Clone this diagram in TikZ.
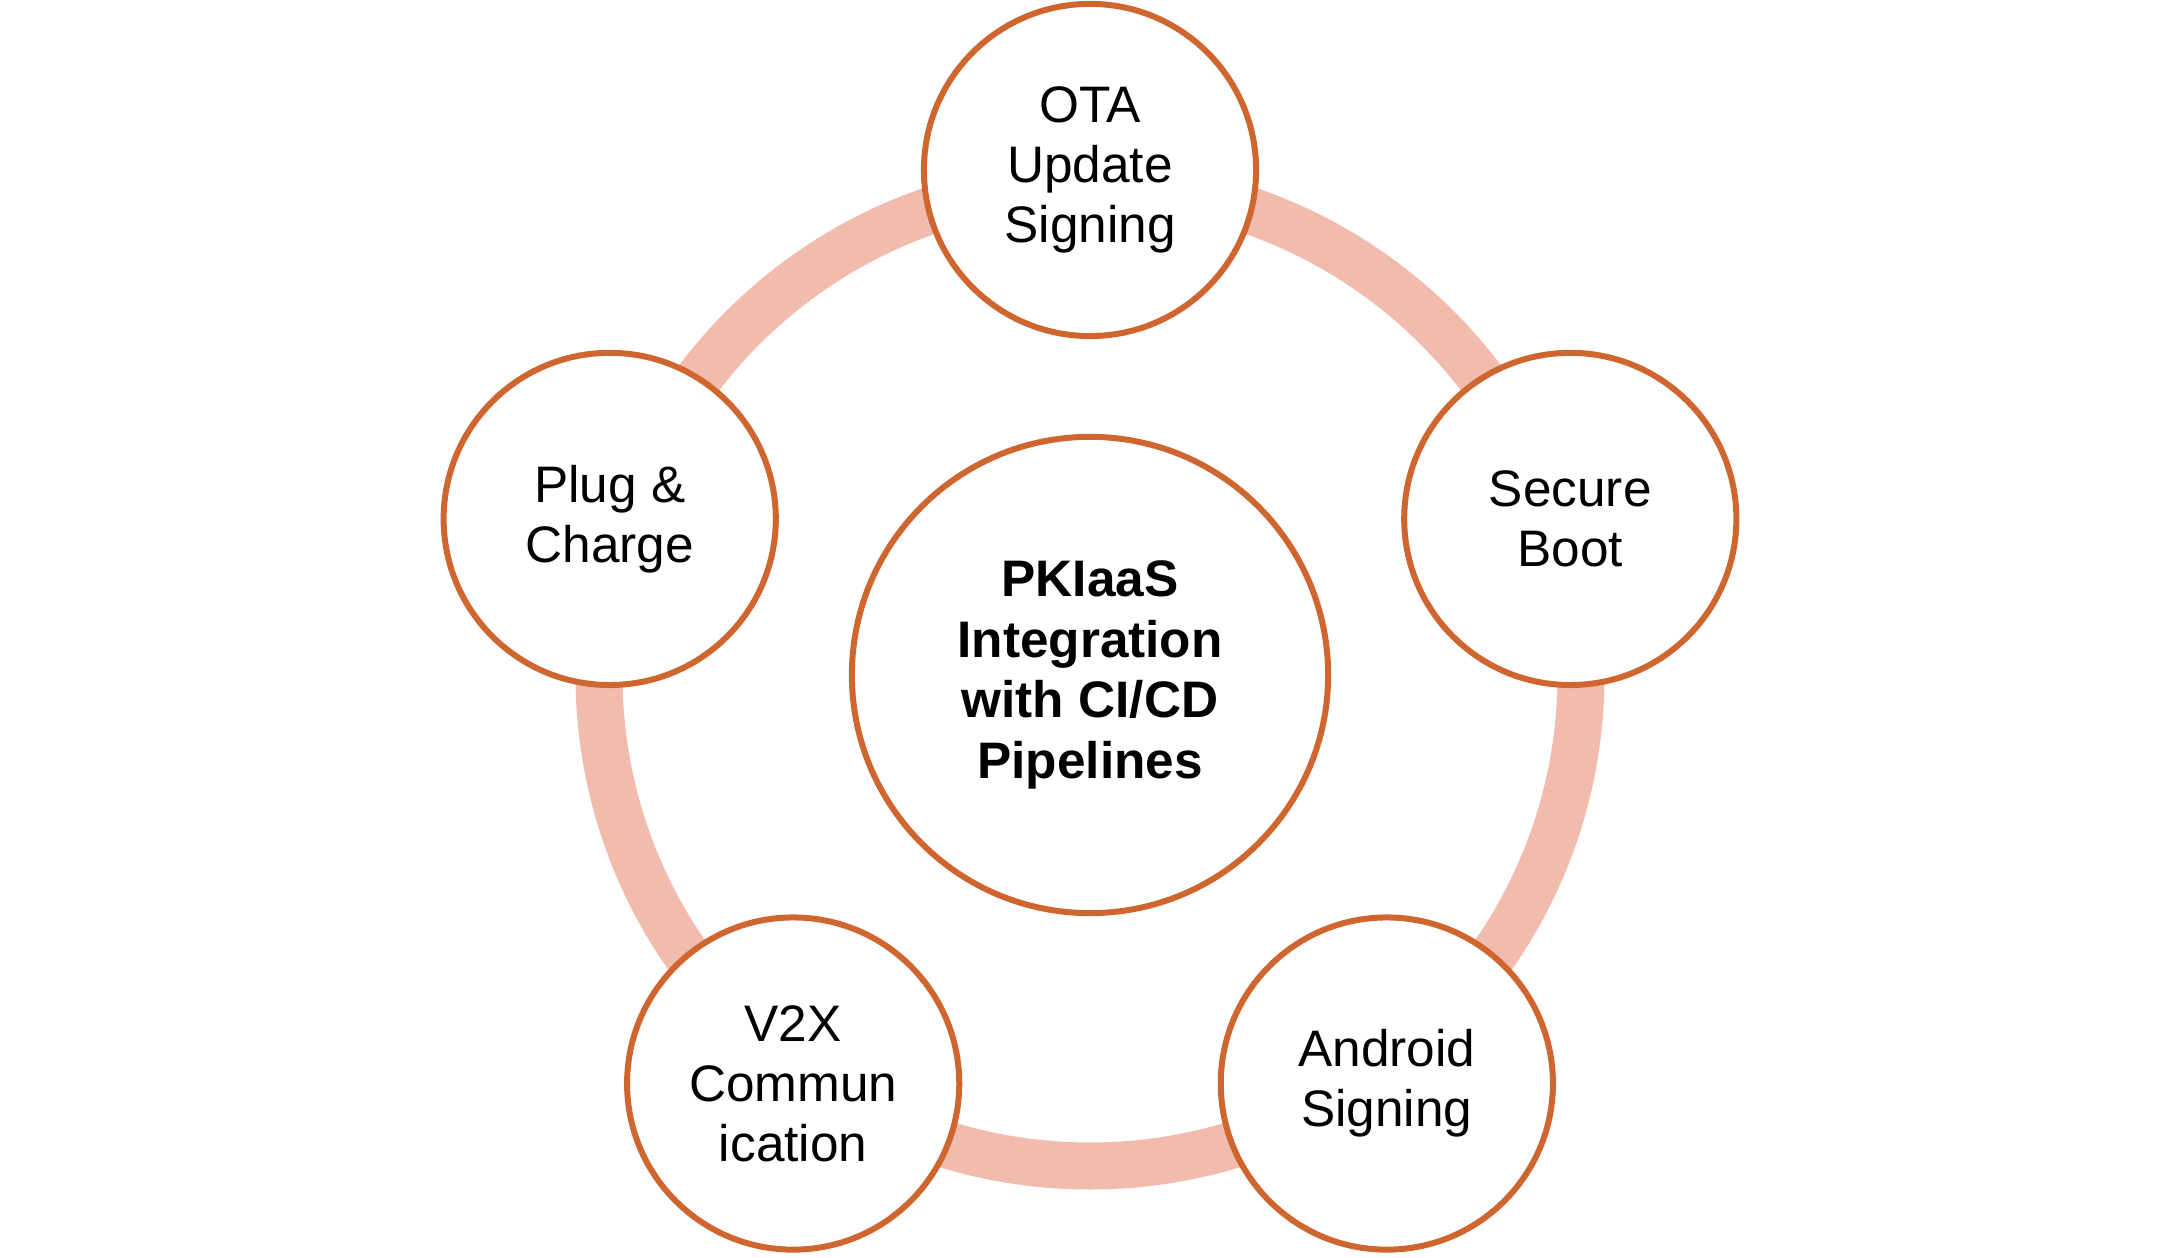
\documentclass[tikz,border=0pt]{standalone}
\usepackage{fontspec}
\setmainfont{Liberation Sans}
\usetikzlibrary{calc}
\definecolor{ringcol}{HTML}{F1BCAE}
\definecolor{edgecol}{HTML}{D0662F}
\begin{document}
\begin{tikzpicture}[x=0.01cm,y=0.01cm,
  item/.style={circle,draw=edgecol,line width=0.06cm,fill=white,minimum size=3.32cm,inner sep=0pt,align=center,font=\fontsize{14.6}{17}\selectfont},
  hub/.style={circle,draw=edgecol,line width=0.06cm,fill=white,minimum size=4.76cm,inner sep=0pt,align=center,font=\fontsize{14.6}{17.2}\selectfont\bfseries}]
\useasboundingbox (0,0) rectangle (2179,1258);
\coordinate (c) at (1090,583);
\draw[ringcol,line width=0.47cm] (c) circle (491);
\node[hub] (hub) at (c) {PKIaaS\\Integration\\with CI/CD\\Pipelines};
\node[item] (ota) at ($(c)+(90:505)$) {OTA\\Update\\Signing};
\node[item] (boot) at ($(c)+(18:505)$) {Secure\\Boot};
\node[item] (android) at ($(c)+(-54:505)$) {Android\\Signing};
\node[item] (v2x) at ($(c)+(-126:505)$) {V2X\\Commun\\ication};
\node[item] (plug) at ($(c)+(162:505)$) {Plug \&\\Charge};
\end{tikzpicture}
\end{document}
